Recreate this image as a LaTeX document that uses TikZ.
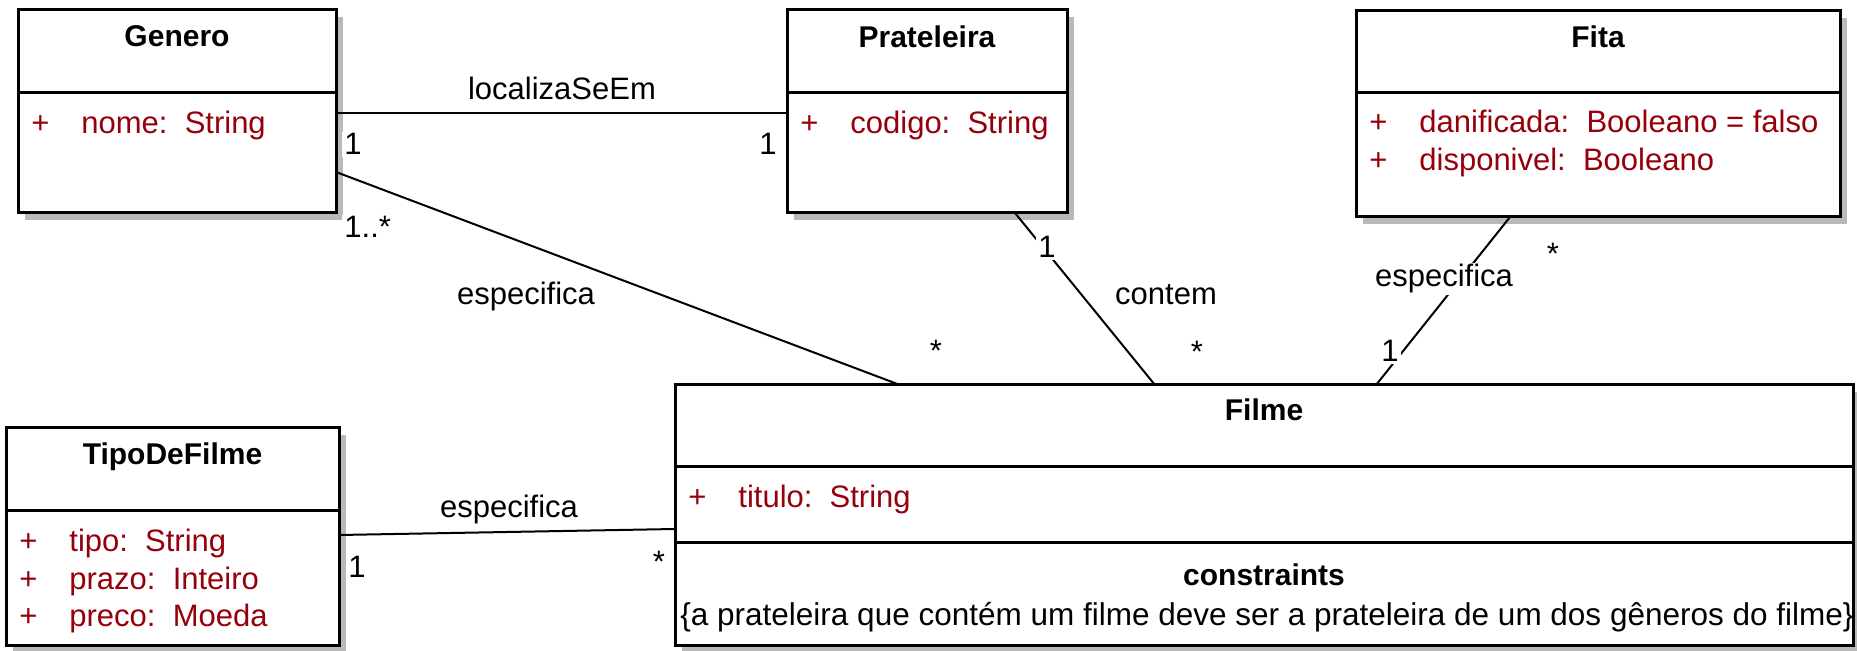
\documentclass[tikz,border=0pt]{standalone}
\usepackage{fontspec}
\setmainfont{Liberation Sans}
\usetikzlibrary{calc,shadows}

\definecolor{attrred}{RGB}{150,0,10}
\definecolor{shadowgray}{RGB}{185,185,185}

\tikzset{
    classbox/.style={draw, line width=1.5pt, fill=white, anchor=north west,
        inner sep=0pt, outer sep=0pt,
        drop shadow={shadow xshift=3.5pt, shadow yshift=-3.5pt, fill=shadowgray, opacity=1}},
    classname/.style={font=\fontsize{15}{18}\selectfont\bfseries, anchor=base, inner sep=0pt},
    attrtext/.style={text=attrred, anchor=base west, inner sep=0pt},
    divider/.style={line width=1.5pt},
    assoc/.style={line width=1pt},
    rolelabel/.style={fill=white, inner sep=1pt, anchor=base},
}

\begin{document}
\begin{tikzpicture}[x=0.5pt, y=-0.5pt, font=\fontsize{15.5}{18}\selectfont]

    \def\plusx{13}
    \def\namex{63}

    \useasboundingbox (0,0) rectangle (1857,651);

    % Class boxes
    \node[classbox, minimum width=159pt, minimum height=101.5pt] (genero) at (18,10) {};
    \node[classbox, minimum width=140pt, minimum height=101.5pt] (prateleira) at (787,10) {};
    \node[classbox, minimum width=242pt, minimum height=103pt] (fita) at (1356,11) {};
    \node[classbox, minimum width=589pt, minimum height=130pt] (filme) at (675,385) {};
    \node[classbox, minimum width=166.5pt, minimum height=108.5pt] (tipo) at (6,428) {};

    % Compartment lines
    \draw[divider] ($(genero.north west)+(0,83)$) -- ++(318,0);
    \draw[divider] ($(prateleira.north west)+(0,83)$) -- ++(280,0);
    \draw[divider] ($(fita.north west)+(0,82)$) -- ++(484,0);
    \draw[divider] ($(filme.north west)+(0,82)$) -- ++(1178,0);
    \draw[divider] ($(filme.north west)+(0,158)$) -- ++(1178,0);
    \draw[divider] ($(tipo.north west)+(0,83)$) -- ++(333,0);

    % Class names
    \node[classname] (genero-name) at ($(genero.north)+(0,37)$) {Genero};
    \node[classname] (prateleira-name) at ($(prateleira.north)+(0,38)$) {Prateleira};
    \node[classname] (fita-name) at ($(fita.north)+(0,37)$) {Fita};
    \node[classname] (filme-name) at ($(filme.north)+(0,36)$) {Filme};
    \node[classname] (tipo-name) at ($(tipo.north)+(0,37)$) {TipoDeFilme};

    % Attributes
    \foreach \cls/\dy/\txt [count=\i] in {
        genero/124/{nome:~~String},
        prateleira/124/{codigo:~~String},
        fita/122/{danificada:~~Booleano = falso},
        fita/160/{disponivel:~~Booleano},
        filme/123/{titulo:~~String},
        tipo/124/{tipo:~~String},
        tipo/161/{prazo:~~Inteiro},
        tipo/198/{preco:~~Moeda}}
    {
        \node[attrtext] (attr-plus-\i) at ($(\cls.north west)+(\plusx,\dy)$) {+};
        \node[attrtext] (attr-\i) at ($(\cls.north west)+(\namex,\dy)$) {\txt};
    }

    % Constraints of Filme
    \node[classname] (filme-constr) at ($(filme.north)+(0,200)$) {constraints};
    \node[anchor=base, inner sep=0pt, font=\fontsize{15.75}{18}\selectfont] (filme-rule)
        at ($(filme.north)+(3,240)$)
        {\{a prateleira que contém um filme deve ser a prateleira de um dos gêneros do filme\}};

    % Associations
    \draw[assoc] ($(genero.north east)+(0,103)$) -- ($(prateleira.north west)+(0,103)$);
    \draw[assoc] ($(genero.north east)+(0,162)$) -- ($(filme.north west)+(225,0)$);
    \draw[assoc] ($(prateleira.south west)+(228,0)$) -- ($(filme.north west)+(480,0)$);
    \draw[assoc] ($(fita.south west)+(154,0)$) -- ($(filme.north west)+(701,0)$);
    \draw[assoc] ($(tipo.north east)+(0,107)$) -- ($(filme.north west)+(0,144)$);

    % Association names and multiplicities
    \node[rolelabel] (loc-label) at (562,100) {localizaSeEm};
    \node[rolelabel] (loc-gen) at (353,155) {1};
    \node[rolelabel] (loc-prat) at (768,155) {1};

    \node[rolelabel, anchor=base west] (esp1-gen) at (342,238) {1..*};
    \node[rolelabel] (esp1-label) at (526,305) {especifica};
    \node[rolelabel] (esp1-filme) at (936,362) {*};

    \node[rolelabel] (cont-prat) at (1047,258) {1};
    \node[rolelabel] (cont-label) at (1166,305) {contem};
    \node[rolelabel] (cont-filme) at (1197,363) {*};

    \node[rolelabel] (esp2-fita) at (1553,265) {*};
    \node[rolelabel] (esp2-label) at (1444,287) {especifica};
    \node[rolelabel] (esp2-filme) at (1390,362) {1};

    \node[rolelabel] (esp3-label) at (509,518) {especifica};
    \node[rolelabel] (esp3-tipo) at (357,577) {1};
    \node[rolelabel] (esp3-filme) at (659,573) {*};

\end{tikzpicture}
\end{document}
